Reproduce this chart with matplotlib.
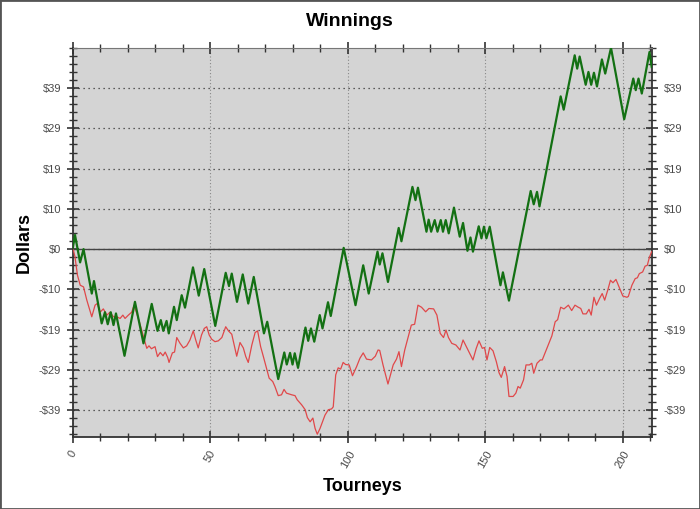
import matplotlib
matplotlib.use("Agg")
import matplotlib.pyplot as plt
from matplotlib.patches import Rectangle
from matplotlib.ticker import MultipleLocator, FixedLocator

# 実績（緑）: 折れ線の頂点
green_x = [0, 0.8, 2.65, 3.9, 6.9, 7.7, 10.5, 11.7, 12.7, 13.8, 14.8, 15.7, 18.8, 22.6, 25.7,
           28.7, 30.8, 32, 32.9, 34.1, 34.9, 36.8, 37.8, 39.6, 40.8, 43.7, 45.8, 47.8, 51.8,
           55.6, 56.8, 57.8, 59.7, 61.8, 63.8, 65.8, 69.5, 70.7, 74.7, 76.9, 77.8, 79, 79.9,
           80.7, 81.9, 84.6, 85.6, 86.6, 87.8, 89.8, 90.8, 92.8, 93.8, 98.5, 102.8, 105.6,
           107.6, 110.8, 111.6, 112.6, 114.6, 118.5, 119.5, 123.5, 124.6, 125.5, 128.6, 129.4,
           130.3, 131.6, 132.6, 133.8, 134.6, 135.6, 136.7, 138.6, 140.7, 141.9, 143.5, 144.6,
           145.5, 147.6, 148.6, 149.5, 150.4, 151.6, 155.5, 156.4, 158.6, 166.5, 167.6, 168.8,
           169.7, 177.4, 178.5, 182.5, 183.4, 184.3, 186.5, 187.5, 188.5, 189.5, 190.6, 192.4,
           193.6, 195.7, 200.5, 203.8, 204.7, 205.7, 206.9, 209.7, 210.5]
green_y = [0.3, 3.4, -3.2, 0, -10.7, -7.7, -17.9, -15.2, -18.1, -15.2, -18.3, -15.5, -25.7, -12.7,
           -22.7, -13.2, -19.7, -17.1, -19.7, -17.3, -20.3, -13.9, -17.1, -11.1, -14.1, -4.4,
           -11.2, -4.8, -18.5, -5.7, -8.9, -5.9, -12.7, -6.1, -13.1, -6.7, -20.3, -17.5, -31.3,
           -24.9, -27.8, -25, -27.8, -25.1, -28.6, -18.9, -22.1, -19.1, -22.3, -15.9, -19.1,
           -12.8, -16.1, 0.3, -13.5, -3.9, -10.7, -0.6, -3.7, -1.0, -7.9, 5.1, 1.9, 15.0, 11.8,
           14.8, 4.2, 7.1, 4.2, 7.0, 4.2, 7.0, 4.2, 7.0, 3.8, 10.0, 3.0, 6.3, -0.4, 2.8, -0.6,
           5.5, 2.6, 5.4, 2.6, 5.4, -8.7, -5.6, -12.4, 14.0, 10.8, 13.8, 10.3, 36.8, 33.6, 46.7,
           43.5, 46.4, 39.6, 42.7, 39.6, 42.5, 39.2, 45.7, 42.3, 48.5, 31.3, 41.1, 38.3, 41.1,
           37.5, 47.5, 43.9]

# 期待値（赤）
red_x = [0.2, 0.8, 1.7, 2.7, 3.9, 5.1, 6.9, 8.1, 8.9, 9.9, 11.1, 12.4, 13.5, 14.8, 16, 17.2,
         18.2, 19, 20.2, 21.4, 22.3, 24.2, 25.9, 26.9, 27.7, 28.6, 29.9, 30.8, 31.8, 32.8,
         33.6, 34.5, 35, 36.2, 37, 37.8, 39, 40.2, 41.4, 42.6, 43.8, 44.7, 45.6, 46.8, 47.8,
         48.7, 49.6, 50.5, 51.7, 52.9, 54.2, 55.6, 56.6, 57.8, 58.6, 59.6, 60.8, 62, 62.9,
         63.8, 65.1, 66.3, 67.2, 68.3, 69.3, 70.5, 71.4, 72.7, 73.5, 74.7, 75.9, 76.8, 77.7,
         79.6, 80.8, 81.6, 83.2, 84.5, 85.3, 86.3, 87.3, 88.1, 88.9, 89.9, 90.8, 91.7, 92.9,
         94.1, 94.7, 95.6, 96.5, 97.4, 98.3, 99.2, 100.5, 101.7, 103.2, 104.4, 105.6, 106.8,
         108.6, 110, 111, 111.6, 112.8, 114.6, 116.5, 117.7, 118.6, 119.5, 120.7, 121.9,
         123.1, 124.3, 125.5, 126.8, 128.3, 129.5, 131.2, 132.4, 133.6, 134.8, 135.7, 136.6,
         137.8, 139.3, 140.8, 141.9, 143.7, 145.5, 146.7, 147.7, 148.9, 149.7, 150.6, 151.6,
         152.8, 154, 155, 155.8, 157, 157.9, 158.6, 160.1, 161.1, 161.9, 162.7, 163.9, 164.8,
         166, 166.9, 167.6, 168.8, 170, 170.7, 172.4, 174.2, 175.4, 176.3, 177.4, 178.6,
         180.2, 181.4, 182.6, 183.8, 184.7, 185.5, 186.7, 187.7, 188.5, 189.5, 190.4, 191.6,
         192.5, 193.4, 194.6, 195.5, 196.4, 197.5, 198.7, 200, 201.5, 202, 203.3, 204.5,
         205.3, 206, 207.2, 208.1, 208.9, 209.7, 210.5]
red_y = [-0.2, -1.9, -6.3, -8.7, -9.1, -12.3, -16.3, -13.5, -13.1, -15.2, -14.4, -15.9, -15.2,
         -16.3, -16.3, -16.7, -15.9, -16.7, -15.9, -15.2, -13.5, -17.5, -21.5, -23.9, -23.3,
         -24, -23.5, -25.9, -24.9, -25.7, -24.8, -26.1, -27.3, -25, -24.8, -21.3, -22.7,
         -23.8, -23.3, -21.9, -19.7, -21.9, -23.8, -20.7, -19.1, -18.7, -20.7, -21.7, -22.3,
         -22.1, -21.3, -18.7, -19.7, -20.5, -22.9, -25.8, -22.5, -23.8, -25.9, -27.3, -23.1,
         -20.1, -19.7, -23.5, -25.9, -28.9, -31.1, -31.9, -33.1, -35.3, -35.1, -33.8, -34.7,
         -35.1, -35.3, -36.3, -37.5, -38.7, -40.6, -41.6, -40.7, -43.2, -44.6, -43.2, -41.6,
         -40, -38.7, -38.5, -38, -30.3, -28.6, -28.9, -27.3, -27.8, -27.9, -30.5, -28.3,
         -26.3, -25, -26.5, -26.7, -25.8, -24.3, -24.4, -27.9, -32.5, -27.9, -26.5, -24.7,
         -28.3, -24.3, -21.3, -18.3, -18.1, -13.5, -14, -15.1, -14.3, -14.4, -15.9, -20.3,
         -21.3, -19.5, -21.3, -22.7, -23.1, -24.3, -21.9, -24.3, -26.7, -23.9, -22.1, -23.9,
         -23.7, -26.7, -23.7, -24.5, -27.1, -29.8, -30.9, -28.3, -30.7, -35.5, -35.5, -34.7,
         -33.1, -33.5, -31.5, -27.9, -27.9, -27.5, -29.9, -27.5, -26.7, -26.7, -23.9, -20.9,
         -17.5, -17.0, -14.0, -14.4, -13.5, -14.8, -13.5, -14, -14.3, -15.6, -15.6, -14.5,
         -15.9, -11.6, -13.5, -11.8, -10.7, -12.3, -9.7, -7.5, -8.1, -7.3, -9.2, -11.3,
         -11.6, -11.4, -8.7, -7.1, -6.9, -5.9, -5.5, -4.1, -3.9, -1.9, -0.6]

y_tick_pos = [-38.8, -29.1, -19.4, -9.7, 0, 9.7, 19.4, 29.1, 38.8]
y_tick_labels = ['-$39', '-$29', '-$19', '-$10', '$0', '$10', '$19', '$29', '$39']
x_tick_pos = [0, 50, 100, 150, 200]
x_tick_labels = ['0', '50', '100', '150', '200']

plt.rcParams['font.family'] = ['Liberation Sans', 'DejaVu Sans']

fig = plt.figure(figsize=(7, 5.09), dpi=100)
ax = fig.add_axes([0.104, 0.142, 0.827, 0.764])
ax.set_facecolor('#d4d4d4')

ax.plot(red_x, red_y, color='#e0484a', lw=0.9, zorder=3)
ax.plot(green_x, green_y, color='#137013', lw=1.6, zorder=4)
ax.axhline(0, color='#444444', lw=1.0, zorder=2)

ax.set_xlim(0, 210.5)
ax.set_ylim(-45.2, 48.5)

ax.yaxis.set_major_locator(FixedLocator(y_tick_pos))
ax.set_yticklabels(y_tick_labels)
ax.yaxis.set_minor_locator(MultipleLocator(9.7 / 5))
ax.xaxis.set_major_locator(FixedLocator(x_tick_pos))
ax.set_xticklabels(x_tick_labels, rotation=60, ha='center', va='top')
ax.xaxis.set_minor_locator(MultipleLocator(10))

ax.tick_params(which='both', direction='inout', top=True, right=True,
               labelright=True, color='#333333')
ax.tick_params(which='major', length=9, width=1.2, labelsize=8, labelcolor='#4a4a4a', pad=4)
ax.tick_params(which='minor', length=6, width=1.0)

ax.grid(axis='y', which='major', color='#333333', linestyle=(0, (1, 3)), lw=0.9)
ax.grid(axis='x', which='major', color='#888888', linestyle=(0, (1, 2)), lw=0.8)

for side in ['left', 'bottom', 'right']:
    ax.spines[side].set_color('#333333')
    ax.spines[side].set_linewidth(1.3)
ax.spines['top'].set_color('#777777')

ax.set_xlabel('Tourneys', fontsize=13, fontweight='bold', labelpad=6)
ax.set_ylabel('Dollars', fontsize=13, fontweight='bold', labelpad=4)
fig.suptitle('Winnings', x=0.5, y=0.957, va='center', fontsize=14, fontweight='bold')

fig.patches.append(Rectangle((0, 0), 1, 1, transform=fig.transFigure, fill=False,
                             edgecolor='#555555', lw=2))

fig.savefig('out.png', dpi=100)
